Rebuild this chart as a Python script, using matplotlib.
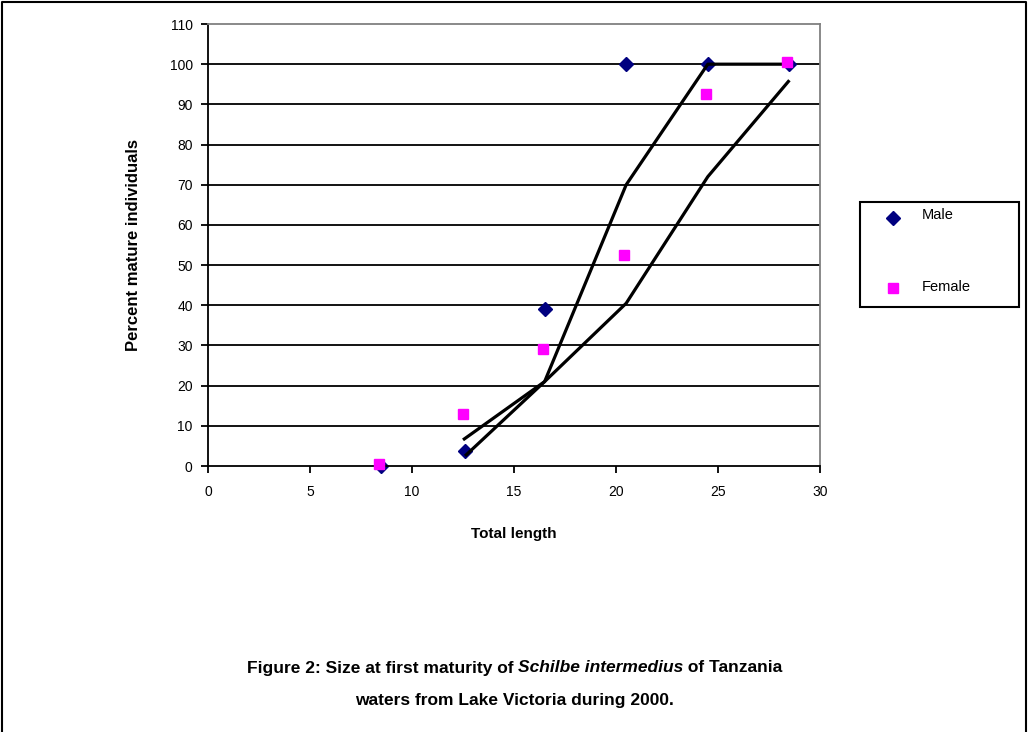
import matplotlib
matplotlib.use("Agg")
import matplotlib.pyplot as plt
from matplotlib.lines import Line2D
from matplotlib.patches import Rectangle

plt.rcParams['font.family'] = ['Liberation Sans', 'DejaVu Sans']

# data
male_len = [8.5, 12.6, 16.5, 20.5, 24.5, 28.5]
male_pct = [0, 3.7, 39, 100, 100, 100]
female_len = [8.4, 12.5, 16.4, 20.4, 24.4, 28.4]
female_pct = [0.5, 13, 29, 52.5, 92.5, 100.5]

# fitted curves (black lines)
fit1_len = [12.6, 16.5, 20.5, 24.5, 28.5]
fit1_pct = [2.5, 21, 70, 100, 100]
fit2_len = [12.5, 16.5, 20.5, 24.5, 28.5]
fit2_pct = [6.5, 21, 40.5, 72, 96]

xticks = [0, 5, 10, 15, 20, 25, 30]
yticks = list(range(0, 111, 10))

W, H = 1029, 732
fig = plt.figure(figsize=(W/100, H/100), dpi=100)
ax = fig.add_axes([208/W, 1-466/H, 612/W, 442/H])

# horizontal gridlines in black
for y in yticks[1:-1]:
    ax.axhline(y, color='black', lw=1.3, zorder=1)

ax.plot(fit1_len, fit1_pct, color='black', lw=2.3, zorder=3, solid_capstyle='butt')
ax.plot(fit2_len, fit2_pct, color='black', lw=2.3, zorder=3, solid_capstyle='butt')
ax.plot(male_len, male_pct, 'D', color='#000080', ms=7.5, mec='#000080', ls='none', zorder=2, clip_on=False)
ax.plot(female_len, female_pct, 's', color='#FF00FF', ms=7.5, mec='#FF00FF', ls='none', zorder=4, clip_on=False)

ax.set_xlim(0, 30)
ax.set_ylim(0, 110)
ax.set_xticks(xticks)
ax.set_yticks(yticks)
ax.tick_params(axis='both', direction='out', length=5, width=1.3, color='black', labelsize=10)
ax.tick_params(axis='x', pad=9)
ax.tick_params(axis='y', pad=6)
for s in ['left', 'bottom']:
    ax.spines[s].set_color('black')
    ax.spines[s].set_linewidth(1.3)
for s in ['top', 'right']:
    ax.spines[s].set_color('#808080')
    ax.spines[s].set_linewidth(1.3)

fig.text(133/W, 1-245/H, 'Percent mature individuals', rotation=90,
         ha='center', va='center', fontsize=12, fontweight='bold')
fig.text(514/W, 1-534/H, 'Total length', ha='center', va='center',
         fontsize=11, fontweight='bold')

# legend box drawn by hand to match its size
fig.add_artist(Rectangle((860/W, 1-307/H), 159/W, 105/H, transform=fig.transFigure,
                         fill=False, edgecolor='black', lw=1.5))
fig.add_artist(Line2D([893/W], [1-218/H], transform=fig.transFigure, marker='D',
                      color='#000080', ms=7.5, ls='none'))
fig.add_artist(Line2D([893/W], [1-288/H], transform=fig.transFigure, marker='s',
                      color='#FF00FF', ms=7.5, ls='none'))
fig.text(922/W, 1-215/H, 'Male', fontsize=10.5, va='center', ha='left')
fig.text(922/W, 1-287/H, 'Female', fontsize=10.5, va='center', ha='left')

# caption with italic species name
cap_y = 1-668/H
t1 = fig.text(0.5, cap_y, 'Figure 2: Size at first maturity of ', fontsize=12.5,
              fontweight='bold', va='center', ha='left')
t2 = fig.text(0, 0, 'Schilbe intermedius', fontsize=12.5, fontweight='bold',
              style='italic', va='center', ha='left')
t3 = fig.text(0, 0, ' of Tanzania', fontsize=12.5, fontweight='bold', va='center', ha='left')
fig.canvas.draw()
r = fig.canvas.get_renderer()
w1 = t1.get_window_extent(r).width / fig.bbox.width
w2 = t2.get_window_extent(r).width / fig.bbox.width
w3 = t3.get_window_extent(r).width / fig.bbox.width
x0 = 0.5 - (w1 + w2 + w3) / 2
t1.set_position((x0, cap_y))
t2.set_position((x0 + w1, cap_y))
t3.set_position((x0 + w1 + w2, cap_y))
fig.text(0.5, 1-700/H, 'waters from Lake Victoria during 2000.', fontsize=12.5,
         fontweight='bold', ha='center', va='center')

# outer border (left, top, right)
fig.add_artist(Line2D([2/W, 2/W, 1026/W, 1026/W], [0, 1-2/H, 1-2/H, 0],
                      transform=fig.transFigure, color='black', lw=1.5))

fig.savefig('out.png', dpi=100)
